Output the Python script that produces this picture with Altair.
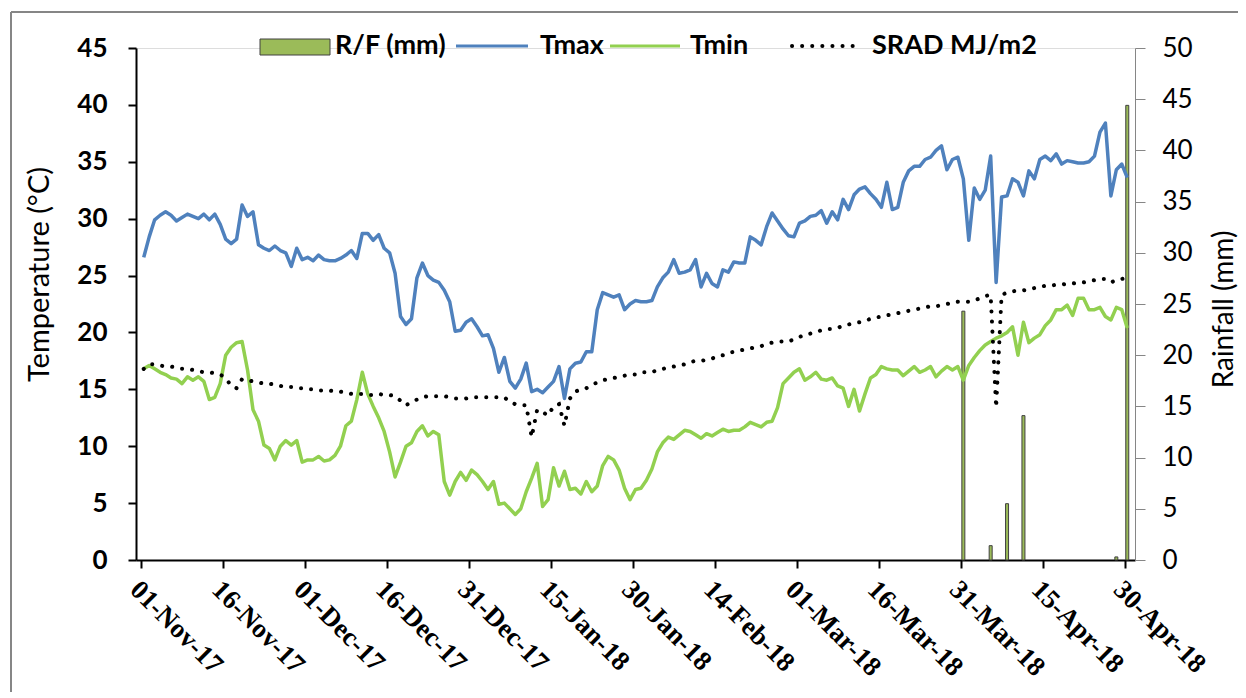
import altair as alt
import pandas as pd

# ---- data (daily, 01-Nov-17 .. 30-Apr-18) ----
tmax = [26.6, 28.4, 29.9, 30.3, 30.6, 30.3, 29.8, 30.1, 30.4, 30.2,
        30.0, 30.4, 29.9, 30.4, 29.5, 28.2, 27.8, 28.2, 31.2, 30.2,
        30.6, 27.7, 27.4, 27.2, 27.6, 27.2, 27.0, 25.8, 27.4, 26.4,
        26.6, 26.3, 26.8, 26.4, 26.3, 26.3, 26.5, 26.8, 27.2, 26.5,
        28.7, 28.7, 28.1, 28.6, 27.4, 27.0, 25.2, 21.4, 20.7, 21.2,
        24.8, 26.1, 25.0, 24.6, 24.4, 23.7, 22.7, 20.1, 20.2, 20.9,
        21.2, 20.5, 19.7, 19.8, 18.6, 16.5, 17.8, 15.7, 15.1, 15.9,
        17.3, 14.8, 15.0, 14.7, 15.2, 15.7, 17.0, 14.2, 16.8, 17.3,
        17.4, 18.3, 18.3, 22.0, 23.5, 23.3, 23.1, 23.3, 22.0, 22.5,
        22.8, 22.7, 22.7, 22.8, 24.0, 24.8, 25.3, 26.4, 25.2, 25.3,
        25.5, 26.4, 24.0, 25.2, 24.3, 24.0, 25.5, 25.3, 26.2, 26.1,
        26.1, 28.4, 28.1, 27.7, 29.3, 30.5, 29.8, 29.1, 28.5, 28.4,
        29.6, 29.8, 30.2, 30.3, 30.7, 29.6, 30.6, 29.9, 31.7, 30.8,
        32.1, 32.6, 32.8, 32.2, 31.7, 31.0, 33.2, 30.8, 31.0, 33.2,
        34.2, 34.6, 34.6, 35.2, 35.4, 36.0, 36.4, 34.3, 35.2, 35.4,
        33.5, 28.1, 32.7, 31.7, 32.5, 35.5, 24.4, 31.9, 32.0, 33.5,
        33.2, 32.0, 34.2, 33.5, 35.2, 35.5, 35.1, 35.7, 34.8, 35.1,
        35.0, 34.9, 34.9, 35.0, 35.5, 37.6, 38.4, 32.0, 34.3, 34.8,
        33.6]

tmin = [16.8, 17.1, 16.8, 16.5, 16.3, 16.0, 15.9, 15.5, 16.1, 15.8,
        16.1, 15.7, 14.1, 14.3, 15.5, 18.0, 18.7, 19.1, 19.2, 16.7,
        13.2, 12.2, 10.1, 9.8, 8.8, 10.0, 10.5, 10.1, 10.5, 8.6,
        8.8, 8.8, 9.1, 8.7, 8.8, 9.2, 10.0, 11.8, 12.2, 14.1,
        16.5, 14.6, 13.5, 12.5, 11.3, 9.5, 7.3, 8.6, 10.0, 10.3,
        11.3, 11.8, 10.9, 11.3, 11.0, 6.9, 5.7, 6.9, 7.7, 7.0,
        7.9, 7.5, 6.9, 6.2, 6.9, 4.9, 5.0, 4.5, 4.0, 4.5,
        6.0, 7.2, 8.5, 4.7, 5.3, 8.1, 6.5, 7.8, 6.2, 6.3,
        5.8, 6.9, 6.0, 6.5, 8.3, 9.1, 8.8, 7.9, 6.3, 5.3,
        6.2, 6.3, 7.0, 8.0, 9.5, 10.3, 10.8, 10.6, 11.0, 11.4,
        11.3, 11.0, 10.7, 11.1, 10.9, 11.2, 11.5, 11.3, 11.4, 11.4,
        11.7, 12.1, 11.9, 11.7, 12.1, 12.2, 13.4, 15.5, 16.0, 16.5,
        16.8, 15.8, 16.1, 16.5, 15.9, 15.8, 16.0, 15.3, 15.1, 13.5,
        15.0, 13.1, 14.6, 16.0, 16.3, 17.0, 16.8, 16.7, 16.7, 16.2,
        16.6, 17.0, 16.5, 16.7, 17.0, 16.1, 16.6, 17.0, 16.7, 17.0,
        15.8, 17.1, 17.8, 18.4, 18.9, 19.2, 19.5, 19.7, 20.0, 20.5,
        18.0, 20.9, 19.1, 19.5, 19.8, 20.6, 21.1, 22.0, 22.0, 22.4,
        21.5, 23.0, 23.0, 22.0, 22.0, 22.2, 21.4, 21.1, 22.2, 22.0,
        20.4]

srad = [16.8, 17.2, 17.2, 17.1, 17.0, 17.0, 16.9, 16.8, 16.8, 16.7,
        16.6, 16.5, 16.5, 16.4, 16.3, 16.0, 15.3, 15.1, 15.9, 15.8,
        15.7, 15.6, 15.5, 15.5, 15.4, 15.3, 15.2, 15.2, 15.1, 15.1,
        15.0, 15.0, 14.9, 14.9, 14.9, 14.8, 14.8, 14.7, 14.6, 14.6,
        14.6, 14.5, 14.5, 14.6, 14.5, 14.5, 14.4, 14.0, 13.6, 13.9,
        14.1, 14.3, 14.4, 14.4, 14.4, 14.4, 14.3, 14.2, 14.2, 14.2,
        14.3, 14.3, 14.3, 14.3, 14.3, 14.3, 14.3, 13.9, 13.7, 13.6,
        13.6, 10.8, 13.2, 13.0, 12.7, 13.5, 13.7, 11.8, 14.2, 14.8,
        15.0, 15.1, 15.4, 15.6, 15.8, 15.9, 16.0, 16.1, 16.2, 16.3,
        16.3, 16.5, 16.5, 16.5, 16.7, 16.8, 16.9, 17.0, 17.1, 17.2,
        17.4, 17.5, 17.5, 17.6, 17.7, 17.9, 18.0, 18.2, 18.3, 18.4,
        18.5, 18.6, 18.7, 18.8, 19.0, 19.1, 19.2, 19.2, 19.2, 19.4,
        19.6, 19.8, 19.9, 20.0, 20.2, 20.3, 20.3, 20.4, 20.6, 20.7,
        20.8, 20.9, 21.0, 21.2, 21.3, 21.4, 21.5, 21.6, 21.7, 21.8,
        21.9, 22.0, 22.1, 22.2, 22.3, 22.3, 22.4, 22.5, 22.6, 22.7,
        22.7, 22.7, 22.8, 23.0, 23.2, 23.3, 13.4, 23.3, 23.5, 23.6,
        23.7, 23.7, 23.8, 23.9, 24.0, 24.1, 24.1, 24.2, 24.2, 24.3,
        24.3, 24.4, 24.4, 24.5, 24.6, 24.7, 24.7, 24.4, 24.6, 24.7,
        24.8]

rain_days = [150, 155, 158, 161, 178, 180]
rain_mm = [24.3, 1.4, 5.5, 14.1, 0.3, 44.4]

tick_days = [0, 15, 30, 45, 60, 75, 90, 105, 120, 135, 150, 165, 180]
tick_labels = ["01-Nov-17", "16-Nov-17", "01-Dec-17", "16-Dec-17", "31-Dec-17",
               "15-Jan-18", "30-Jan-18", "14-Feb-18", "01-Mar-18", "16-Mar-18",
               "31-Mar-18", "15-Apr-18", "30-Apr-18"]

df = pd.DataFrame({"pos": [d + 0.5 for d in range(len(tmax))],
                   "Tmax": tmax, "Tmin": tmin, "SRAD": srad})
rain_df = pd.DataFrame({"pos": [d + 0.5 for d in rain_days], "rain": rain_mm})
one = pd.DataFrame({"a": [0]})

SANS = "Lato"
BLUE = "#4F81BD"
GREEN = "#92D050"
BARGREEN = "#9BBB59"

label_expr = "[" + ",".join("'%s'" % s for s in tick_labels) + "][round(datum.value/15)]"

xscale = alt.Scale(domain=[0, 181], nice=False, zero=False)
xaxis = alt.Axis(values=tick_days, labelExpr=label_expr, labelAngle=45,
                 labelAlign="left", labelBaseline="top", labelFont="Liberation Serif",
                 labelFontWeight="bold", labelFontSize=27, labelColor="black",
                 labelPadding=8, labelOffset=2, labelOverlap=False, labelFlush=False,
                 domainColor="black", domainWidth=2, tickColor="black", tickWidth=2,
                 tickSize=8, grid=False, title=None)

yscale_t = alt.Scale(domain=[0, 45], nice=False, zero=True)
yaxis_t = alt.Axis(values=list(range(0, 46, 5)), orient="left", title="Temperature (°C)",
                   titleFont=SANS, titleFontSize=29, titleFontWeight="normal",
                   titleColor="black", titleX=-97, titleY=226, titleAngle=270,
                   titleAlign="center", titleBaseline="middle",
                   labelFont=SANS, labelFontWeight="bold", labelFontSize=26,
                   labelColor="black", labelPadding=21, tickSize=8, tickWidth=2,
                   tickColor="black", domainColor="black", domainWidth=2, grid=False)

yscale_r = alt.Scale(domain=[0, 50], nice=False, zero=True)
yaxis_r = alt.Axis(values=list(range(0, 51, 5)), orient="right", title="Rainfall (mm)",
                   titleFont=SANS, titleFontSize=28, titleFontWeight="normal",
                   titleColor="black", titleX=89, titleY=261, titleAngle=270,
                   titleAlign="center", titleBaseline="middle",
                   labelFont=SANS, labelFontWeight="normal", labelFontSize=26,
                   labelColor="black", labelPadding=17, tickSize=10, tickWidth=1,
                   tickColor="#868686", domainColor="#868686", domainWidth=1, grid=False)

bars = alt.Chart(rain_df).mark_bar(size=3, fill=BARGREEN, stroke="#404040",
                                   strokeWidth=1).encode(
    x=alt.X("pos:Q", scale=xscale, axis=xaxis),
    y=alt.Y("rain:Q", scale=yscale_r, axis=yaxis_r),
)

line_tmax = alt.Chart(df).mark_line(color=BLUE, strokeWidth=3.5, strokeJoin="round").encode(
    x=alt.X("pos:Q", scale=xscale, axis=xaxis),
    y=alt.Y("Tmax:Q", scale=yscale_t, axis=yaxis_t),
)
line_tmin = alt.Chart(df).mark_line(color=GREEN, strokeWidth=3.5, strokeJoin="round").encode(
    x=alt.X("pos:Q", scale=xscale, axis=xaxis),
    y=alt.Y("Tmin:Q", scale=yscale_t, axis=None),
)
line_srad = alt.Chart(df).mark_line(color="black", strokeWidth=4, strokeCap="round",
                                    strokeDash=[0.1, 10]).encode(
    x=alt.X("pos:Q", scale=xscale, axis=xaxis),
    y=alt.Y("SRAD:Q", scale=yscale_t, axis=None),
)

# chart frame (top and left edges visible in the reference)
frame_top = alt.Chart(one).mark_rule(color="#868686", strokeWidth=2).encode(
    x=alt.value(-125), x2=alt.value(1102), y=alt.value(-36))
frame_left = alt.Chart(one).mark_rule(color="#868686", strokeWidth=2).encode(
    x=alt.value(-125), y=alt.value(-36), y2=alt.value(650))

# manual legend
leg_rect = alt.Chart(one).mark_rect(fill=BARGREEN, stroke="#404040", strokeWidth=1).encode(
    x=alt.value(124), x2=alt.value(194), y=alt.value(-9), y2=alt.value(7))
leg_blue = alt.Chart(one).mark_rule(color=BLUE, strokeWidth=3).encode(
    x=alt.value(320), x2=alt.value(392), y=alt.value(-2))
leg_green = alt.Chart(one).mark_rule(color=GREEN, strokeWidth=3).encode(
    x=alt.value(474), x2=alt.value(544), y=alt.value(-2))
leg_dot = alt.Chart(one).mark_rule(color="black", strokeWidth=4, strokeCap="round",
                                   strokeDash=[0.1, 10]).encode(
    x=alt.value(656), x2=alt.value(726), y=alt.value(-2))

leg_names = ["R/F (mm)", "Tmax", "Tmin", "SRAD MJ/m2"]
leg_x = [199, 404, 554, 736]
leg_text = alt.layer(*[
    alt.Chart(one).mark_text(align="left", baseline="middle", font=SANS, fontSize=27,
                             fontWeight="bold", color="black").encode(
        x=alt.value(xv), y=alt.value(-2), text=alt.value(nm))
    for nm, xv in zip(leg_names, leg_x)
])

chart = alt.layer(
    bars, line_tmax, line_tmin, line_srad,
    frame_top, frame_left, leg_rect, leg_blue, leg_green, leg_dot, leg_text,
).resolve_scale(y="independent").properties(
    width=999, height=512,
    autosize=alt.AutoSizeParams(type="none"),
    padding={"left": 128, "top": 40, "right": 103, "bottom": 132},
).configure_view(stroke=None).configure(background="white")

chart.save("out.html", embed_options={"renderer": "svg", "actions": False})
